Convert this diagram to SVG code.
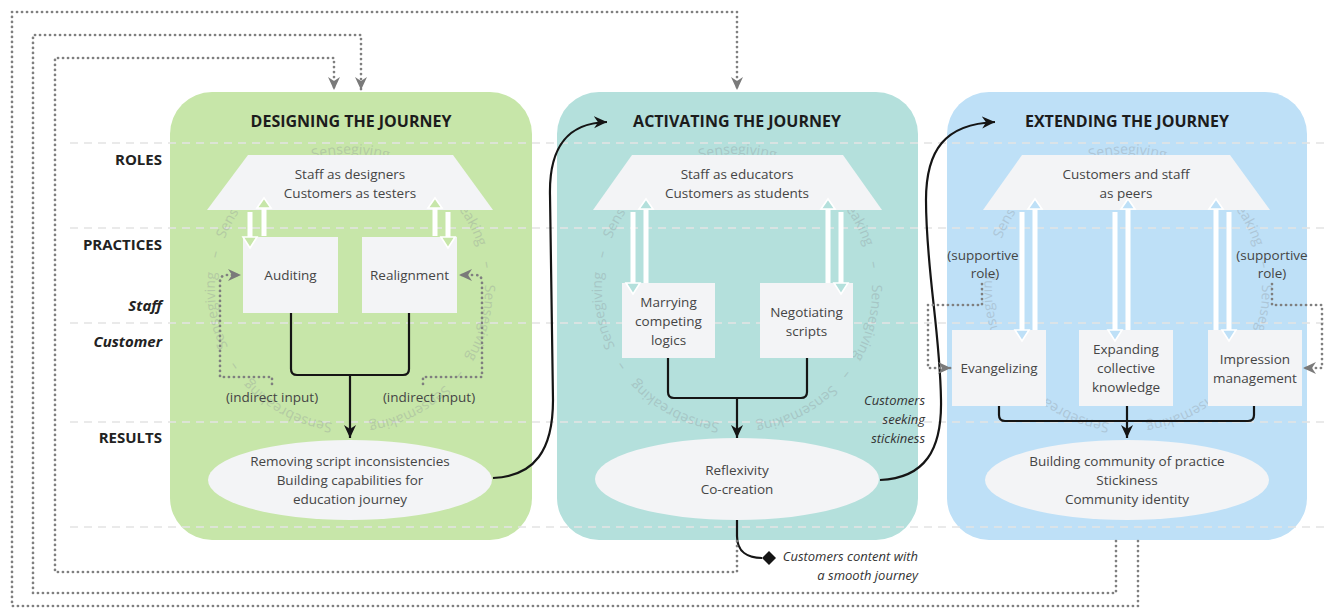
<svg xmlns="http://www.w3.org/2000/svg" xmlns:xlink="http://www.w3.org/1999/xlink" width="1325" height="612" viewBox="0 0 1325 612">
<style>
text{font-family:"Open Sans","Noto Sans","Liberation Sans",sans-serif;}
.title{font-size:16px;font-weight:700;fill:#1c1c1c;text-anchor:middle;}
.row{font-size:15px;font-weight:700;fill:#222;text-anchor:end;}
.rowi{font-size:15px;font-weight:700;font-style:italic;fill:#222;text-anchor:end;}
.t{font-size:13.5px;fill:#454545;text-anchor:middle;}
.ti{font-size:13px;font-style:italic;fill:#333;text-anchor:end;}
.node{fill:#f3f4f6;}
.grid{stroke:#e4e4e4;stroke-width:1.5;stroke-dasharray:8 6;fill:none;}
.blk{stroke:#151515;stroke-width:2.2;fill:none;}
.dot{stroke:#7f7f7f;stroke-width:2.7;stroke-dasharray:0.1 4.9;stroke-linecap:round;fill:none;}
.shaft{fill:#ffffff;}
.head{stroke:#ffffff;stroke-width:1.6;}
.ring text{font-size:14px;fill:#8a9096;opacity:0.32;text-anchor:middle;}
</style>
<defs>
<marker id="ab" markerUnits="userSpaceOnUse" markerWidth="14" markerHeight="14" viewBox="0 0 14 14" refX="13" refY="7" orient="auto"><path d="M0,1 L13,7 L0,13 L4,7 z" fill="#151515"/></marker>
<marker id="ag" markerUnits="userSpaceOnUse" markerWidth="14" markerHeight="14" viewBox="0 0 14 14" refX="13" refY="7" orient="auto"><path d="M0,1 L13,7 L0,13 L4,7 z" fill="#7a7a7a"/></marker>
<marker id="dm" markerUnits="userSpaceOnUse" markerWidth="14" markerHeight="14" viewBox="0 0 14 14" refX="0" refY="7" orient="auto"><path d="M0,7 L7,0 L14,7 L7,14 z" fill="#151515"/></marker>
<path id="ringp" d="M-37.2,-129.8 A135,135 0 1 1 37.2,129.8 A135,135 0 1 1 -37.2,-129.8"/>
</defs>

<g id="panels">
<rect id="panel-designing" x="170" y="92" width="362" height="448" rx="42" fill="#c7e6a9"/>
<rect id="panel-activating" x="557" y="92" width="361" height="448" rx="42" fill="#b4e0dc"/>
<rect id="panel-extending" x="947" y="92" width="360" height="448" rx="42" fill="#bee0f7"/>
</g>

<g id="gridlines">
<path class="grid" d="M70,143 H1325 M70,228 H1325 M70,323 H1325 M70,422 H1325 M70,527 H1325"/>
</g>

<g id="row-labels">
<text class="row" x="162" y="165">ROLES</text>
<text class="row" x="162" y="250">PRACTICES</text>
<text class="rowi" x="162" y="311">Staff</text>
<text class="rowi" x="162" y="347">Customer</text>
<text class="row" x="162" y="443">RESULTS</text>
</g>

<g id="watermarks">
<g class="ring" transform="translate(350,289)">
<text><textPath href="#ringp" xlink:href="#ringp" startOffset="38.3">Sensegiving</textPath></text>
<text><textPath href="#ringp" xlink:href="#ringp" startOffset="93.9">–</textPath></text>
<text><textPath href="#ringp" xlink:href="#ringp" startOffset="158.9">Sensebreaking</textPath></text>
<text><textPath href="#ringp" xlink:href="#ringp" startOffset="226">–</textPath></text>
<text><textPath href="#ringp" xlink:href="#ringp" startOffset="283.7">Sensegiving</textPath></text>
<text><textPath href="#ringp" xlink:href="#ringp" startOffset="339.4">–</textPath></text>
<text><textPath href="#ringp" xlink:href="#ringp" startOffset="399.8">Sensemaking</textPath></text>
<text><textPath href="#ringp" xlink:href="#ringp" startOffset="461.3">–</textPath></text>
<text><textPath href="#ringp" xlink:href="#ringp" startOffset="527.3">Sensebreaking</textPath></text>
<text><textPath href="#ringp" xlink:href="#ringp" startOffset="594.4">–</textPath></text>
<text><textPath href="#ringp" xlink:href="#ringp" startOffset="652.1">Sensegiving</textPath></text>
<text><textPath href="#ringp" xlink:href="#ringp" startOffset="707.8">–</textPath></text>
<text><textPath href="#ringp" xlink:href="#ringp" startOffset="768.2">Sensemaking</textPath></text>
<text><textPath href="#ringp" xlink:href="#ringp" startOffset="829.7">–</textPath></text>
</g>
<g class="ring" transform="translate(737,289)">
<text><textPath href="#ringp" xlink:href="#ringp" startOffset="38.3">Sensegiving</textPath></text>
<text><textPath href="#ringp" xlink:href="#ringp" startOffset="93.9">–</textPath></text>
<text><textPath href="#ringp" xlink:href="#ringp" startOffset="158.9">Sensebreaking</textPath></text>
<text><textPath href="#ringp" xlink:href="#ringp" startOffset="226">–</textPath></text>
<text><textPath href="#ringp" xlink:href="#ringp" startOffset="283.7">Sensegiving</textPath></text>
<text><textPath href="#ringp" xlink:href="#ringp" startOffset="339.4">–</textPath></text>
<text><textPath href="#ringp" xlink:href="#ringp" startOffset="399.8">Sensemaking</textPath></text>
<text><textPath href="#ringp" xlink:href="#ringp" startOffset="461.3">–</textPath></text>
<text><textPath href="#ringp" xlink:href="#ringp" startOffset="527.3">Sensebreaking</textPath></text>
<text><textPath href="#ringp" xlink:href="#ringp" startOffset="594.4">–</textPath></text>
<text><textPath href="#ringp" xlink:href="#ringp" startOffset="652.1">Sensegiving</textPath></text>
<text><textPath href="#ringp" xlink:href="#ringp" startOffset="707.8">–</textPath></text>
<text><textPath href="#ringp" xlink:href="#ringp" startOffset="768.2">Sensemaking</textPath></text>
<text><textPath href="#ringp" xlink:href="#ringp" startOffset="829.7">–</textPath></text>
</g>
<g class="ring" transform="translate(1127,289)">
<text><textPath href="#ringp" xlink:href="#ringp" startOffset="38.3">Sensegiving</textPath></text>
<text><textPath href="#ringp" xlink:href="#ringp" startOffset="93.9">–</textPath></text>
<text><textPath href="#ringp" xlink:href="#ringp" startOffset="158.9">Sensebreaking</textPath></text>
<text><textPath href="#ringp" xlink:href="#ringp" startOffset="226">–</textPath></text>
<text><textPath href="#ringp" xlink:href="#ringp" startOffset="283.7">Sensegiving</textPath></text>
<text><textPath href="#ringp" xlink:href="#ringp" startOffset="339.4">–</textPath></text>
<text><textPath href="#ringp" xlink:href="#ringp" startOffset="399.8">Sensemaking</textPath></text>
<text><textPath href="#ringp" xlink:href="#ringp" startOffset="461.3">–</textPath></text>
<text><textPath href="#ringp" xlink:href="#ringp" startOffset="527.3">Sensebreaking</textPath></text>
<text><textPath href="#ringp" xlink:href="#ringp" startOffset="594.4">–</textPath></text>
<text><textPath href="#ringp" xlink:href="#ringp" startOffset="652.1">Sensegiving</textPath></text>
<text><textPath href="#ringp" xlink:href="#ringp" startOffset="707.8">–</textPath></text>
<text><textPath href="#ringp" xlink:href="#ringp" startOffset="768.2">Sensemaking</textPath></text>
<text><textPath href="#ringp" xlink:href="#ringp" startOffset="829.7">–</textPath></text>
</g>
</g>

<g id="titles">
<text class="title" x="351" y="127">DESIGNING THE JOURNEY</text>
<text class="title" x="737" y="127">ACTIVATING THE JOURNEY</text>
<text class="title" x="1127" y="127">EXTENDING THE JOURNEY</text>
</g>

<g id="role-designing"><polygon class="node" points="248,155 453,155 493,210 207,210"/><text class="t" x="350" y="179">Staff as designers</text><text class="t" x="350" y="198">Customers as testers</text></g>
<g id="role-activating"><polygon class="node" points="632,155 843,155 882,210 593,210"/><text class="t" x="737" y="179">Staff as educators</text><text class="t" x="737" y="198">Customers as students</text></g>
<g id="role-extending"><polygon class="node" points="1022,155 1230,155 1270,210 983,210"/><text class="t" x="1126" y="179">Customers and staff</text><text class="t" x="1126" y="198">as peers</text></g>

<g id="practice-auditing"><rect class="node" x="243" y="237" width="95" height="76"/><text class="t" x="290.5" y="280">Auditing</text></g>
<g id="practice-realignment"><rect class="node" x="362" y="237" width="95" height="76"/><text class="t" x="409.5" y="280">Realignment</text></g>
<g id="practice-marrying"><rect class="node" x="622" y="283" width="93" height="75"/><text class="t" x="668.5" y="307">Marrying</text><text class="t" x="668.5" y="326">competing</text><text class="t" x="668.5" y="345">logics</text></g>
<g id="practice-negotiating"><rect class="node" x="760" y="283" width="93" height="75"/><text class="t" x="806.5" y="317">Negotiating</text><text class="t" x="806.5" y="336">scripts</text></g>
<g id="practice-evangelizing"><rect class="node" x="952" y="330" width="94" height="76"/><text class="t" x="999" y="373">Evangelizing</text></g>
<g id="practice-expanding"><rect class="node" x="1079" y="330" width="94" height="76"/><text class="t" x="1126" y="354">Expanding</text><text class="t" x="1126" y="373">collective</text><text class="t" x="1126" y="392">knowledge</text></g>
<g id="practice-impression"><rect class="node" x="1208" y="330" width="94" height="76"/><text class="t" x="1255" y="364">Impression</text><text class="t" x="1255" y="383">management</text></g>

<g id="result-designing"><ellipse class="node" cx="350" cy="480" rx="142" ry="40"/><text class="t" x="350" y="466">Removing script inconsistencies</text><text class="t" x="350" y="485">Building capabilities for</text><text class="t" x="350" y="504">education journey</text></g>
<g id="result-activating"><ellipse class="node" cx="737" cy="479" rx="142" ry="41"/><text class="t" x="737" y="475">Reflexivity</text><text class="t" x="737" y="494">Co-creation</text></g>
<g id="result-extending"><ellipse class="node" cx="1127" cy="480" rx="142" ry="40"/><text class="t" x="1127" y="466">Building community of practice</text><text class="t" x="1127" y="485">Stickiness</text><text class="t" x="1127" y="504">Community identity</text></g>

<g id="annotations">
<text class="t" x="272" y="402">(indirect input)</text>
<text class="t" x="429" y="402">(indirect input)</text>
<text class="t" x="983" y="260">(supportive</text><text class="t" x="985" y="278">role)</text>
<text class="t" x="1272" y="260">(supportive</text><text class="t" x="1272" y="278">role)</text>
<text class="ti" x="925" y="405">Customers</text><text class="ti" x="925" y="424">seeking</text><text class="ti" x="925" y="443">stickiness</text>
<text class="ti" x="918" y="561">Customers content with</text><text class="ti" x="918" y="580">a smooth journey</text>
</g>

<g id="connectors">
<g fill="#c7e6a9">
<rect class="shaft" x="247.5" y="212" width="5" height="25"/><polygon class="head" points="243,237 257,237 250,248"/>
<rect class="shaft" x="261.5" y="208" width="5" height="28"/><polygon class="head" points="257,208 271,208 264,198"/>
<rect class="shaft" x="432.5" y="208" width="5" height="28"/><polygon class="head" points="428,208 442,208 435,198"/>
<rect class="shaft" x="445.5" y="212" width="5" height="25"/><polygon class="head" points="441,237 455,237 448,248"/>
</g>
<g fill="#b4e0dc">
<rect class="shaft" x="630.5" y="212" width="5" height="71"/><polygon class="head" points="626,283 640,283 633,294"/>
<rect class="shaft" x="643.5" y="209" width="5" height="74"/><polygon class="head" points="639,209 653,209 646,199"/>
<rect class="shaft" x="825.5" y="209" width="5" height="74"/><polygon class="head" points="821,209 835,209 828,199"/>
<rect class="shaft" x="838.5" y="212" width="5" height="71"/><polygon class="head" points="834,283 848,283 841,294"/>
</g>
<g fill="#bee0f7">
<rect class="shaft" x="1019.5" y="212" width="5" height="118"/><polygon class="head" points="1015,330 1029,330 1022,341"/>
<rect class="shaft" x="1032.5" y="209" width="5" height="121"/><polygon class="head" points="1028,209 1042,209 1035,199"/>
<rect class="shaft" x="1112.5" y="212" width="5" height="118"/><polygon class="head" points="1108,330 1122,330 1115,341"/>
<rect class="shaft" x="1125.5" y="209" width="5" height="121"/><polygon class="head" points="1121,209 1135,209 1128,199"/>
<rect class="shaft" x="1213.5" y="209" width="5" height="121"/><polygon class="head" points="1209,209 1223,209 1216,199"/>
<rect class="shaft" x="1226.5" y="212" width="5" height="118"/><polygon class="head" points="1222,330 1236,330 1229,341"/>
</g>

<path class="blk" d="M291,313 V369 Q291,375 297,375 H403 Q409,375 409,369 V313"/>
<path class="blk" d="M350,375 V438" marker-end="url(#ab)"/>
<path class="blk" d="M668,358 V392 Q668,398 674,398 H801 Q807,398 807,392 V358"/>
<path class="blk" d="M737,398 V438" marker-end="url(#ab)"/>
<path class="blk" d="M999,406 V415 Q999,421 1005,421 H1248 Q1254,421 1254,415 V406"/>
<path class="blk" d="M1127,406 V438" marker-end="url(#ab)"/>

<path class="blk" d="M493,478 C535,476 553,450 553,400 L550,195 C549,150 565,123 607,122" marker-end="url(#ab)"/>
<path class="blk" d="M880,480 C925,478 942,450 941,400 C940,330 926,270 926,200 C926,150 945,124 995,122" marker-end="url(#ab)"/>
<path class="blk" d="M737,520 V536 C737,552 748,558 762,558" marker-end="url(#dm)"/>

<path class="dot" d="M272,384 V377 H220 V282 Q220,275 227,275 H241" marker-end="url(#ag)"/>
<path class="dot" d="M423,384 V377 H482 V282 Q482,275 475,275 H459" marker-end="url(#ag)"/>
<path class="dot" d="M982,284 V305 H928 V368 H951" marker-end="url(#ag)"/>
<path class="dot" d="M1272,284 V305 H1322 V368 H1303" marker-end="url(#ag)"/>

<path class="dot" d="M1138,541 V606 H12 V12 H737 V90" marker-end="url(#ag)"/>
<path class="dot" d="M1116,541 V593 H33 V35 H361 V90" marker-end="url(#ag)"/>
<path class="dot" d="M737,541 V572 H55 V58 H334 V90" marker-end="url(#ag)"/>
</g>
</svg>
